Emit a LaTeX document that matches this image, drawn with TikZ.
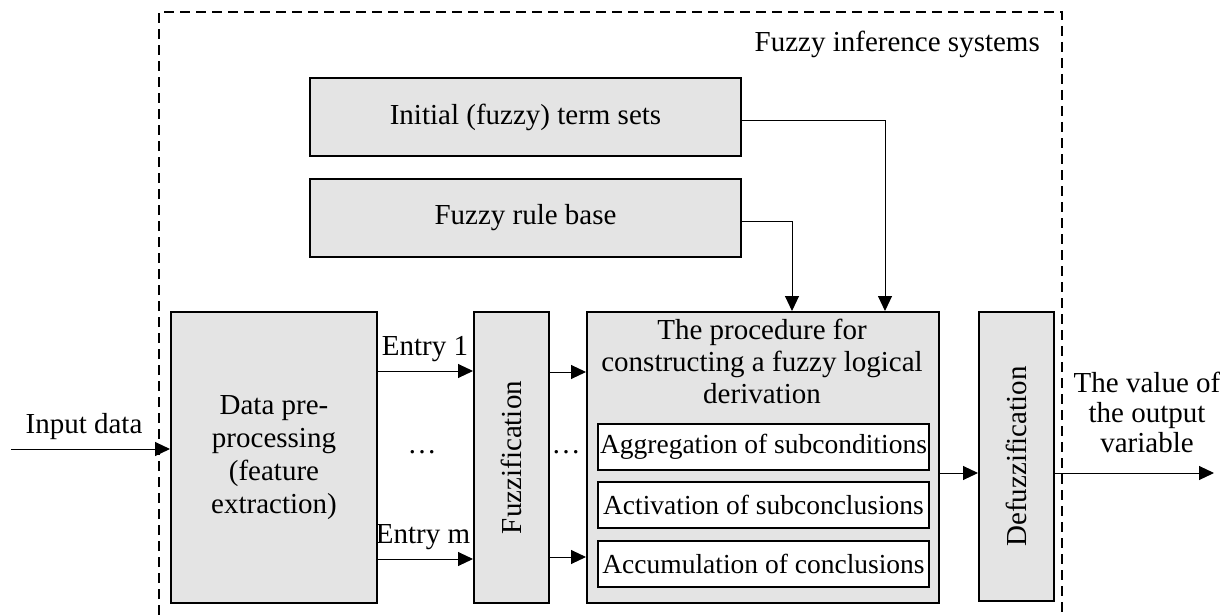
\documentclass[tikz,border=0pt]{standalone}
\usepackage{fontspec}
\setmainfont{Liberation Serif}
\usetikzlibrary{arrows.meta}
\definecolor{boxfill}{RGB}{228,228,228}
\begin{document}
\begin{tikzpicture}[x=1pt,y=-1pt,
  every node/.style={font=\fontsize{29}{32}\selectfont, inner sep=0pt},
  blk/.style={draw=black, line width=2pt, fill=boxfill, anchor=north west, align=center},
  sub/.style={draw=black, line width=2pt, fill=white, anchor=north west,
              minimum width=331pt, minimum height=46pt, font=\fontsize{27.5}{30}\selectfont},
  arr/.style={line width=1pt, -{Triangle[length=15pt,width=14pt]}},
  frame/.style={line width=2pt, dash pattern=on 10pt off 6pt},
  lbl/.style={align=center}
]
\useasboundingbox (0,0) rectangle (1220,615);

% outer dashed frame
\draw[frame] (159,615) -- (159,12) -- (1062,12) -- (1062,615);
\node[anchor=base east] (fistitle) at (1040,52) {Fuzzy inference systems};

% knowledge blocks
\node[blk, minimum width=431pt, minimum height=78pt] (terms) at (309,77) {Initial (fuzzy) term sets};
\node[blk, minimum width=431pt, minimum height=78pt] (rules) at (309,178) {Fuzzy rule base};

% main chain
\node[blk, minimum width=206pt, minimum height=291pt, font=\fontsize{29}{33}\selectfont] (pre) at (170,311)
  {Data pre-\\processing\\(feature\\extraction)};
\node[blk, minimum width=75pt, minimum height=291pt] (fuzz) at (473,311) {};
\node[rotate=90] (fuzzt) at (fuzz.center) {Fuzzification};
\node[blk, minimum width=352pt, minimum height=291pt] (proc) at (586,311) {};
\node[lbl, anchor=north, font=\fontsize{29}{32}\selectfont] (proct) at (762,319)
  {The procedure for\\constructing a fuzzy logical\\derivation};
\node[sub] (agg) at (597,423) {Aggregation of subconditions};
\node[sub] (act) at (597,481) {Activation of subconclusions};
\node[sub] (acc) at (597,540) {Accumulation of conclusions};
\node[blk, minimum width=75pt, minimum height=289pt] (defuzz) at (978,311) {};
\node[rotate=90] (defuzzt) at (defuzz.center) {Defuzzification};

% labels
\node[anchor=base] (inlbl) at (84,433) {Input data};
\node[anchor=base] (e1lbl) at (425,355) {Entry 1};
\node[anchor=base] (emlbl) at (423,543) {Entry m};
\node (dots1) at (422,452) {\dots};
\node (dots2) at (566,452) {\dots};
\node[lbl, anchor=north, font=\fontsize{29}{30}\selectfont] (outlbl) at (1147,372)
  {The value of\\the output\\variable};

% connectors
\coordinate (in) at (11,449);
\coordinate (out) at (1214,473);
\draw[arr] (in) -- (in -| pre.west);
\draw[arr] ([yshift=-60pt]pre.north east) -- ([yshift=-60pt]fuzz.north west);
\draw[arr] ([yshift=45pt]pre.south east) -- ([yshift=45pt]fuzz.south west);
\draw[arr] ([yshift=-61pt]fuzz.north east) -- ([yshift=-61pt]proc.north west);
\draw[arr] ([yshift=47pt]fuzz.south east) -- ([yshift=47pt]proc.south west);
\draw[arr] ([yshift=-162pt]proc.north east) -- ([yshift=-162pt]defuzz.north west);
\draw[arr] (defuzz.east |- out) -- (out);
\draw[arr] ([yshift=-4pt]terms.east) -| ([xshift=122pt]proc.north);
\draw[arr] ([yshift=-3pt]rules.east) -| ([xshift=29pt]proc.north);
\end{tikzpicture}
\end{document}
